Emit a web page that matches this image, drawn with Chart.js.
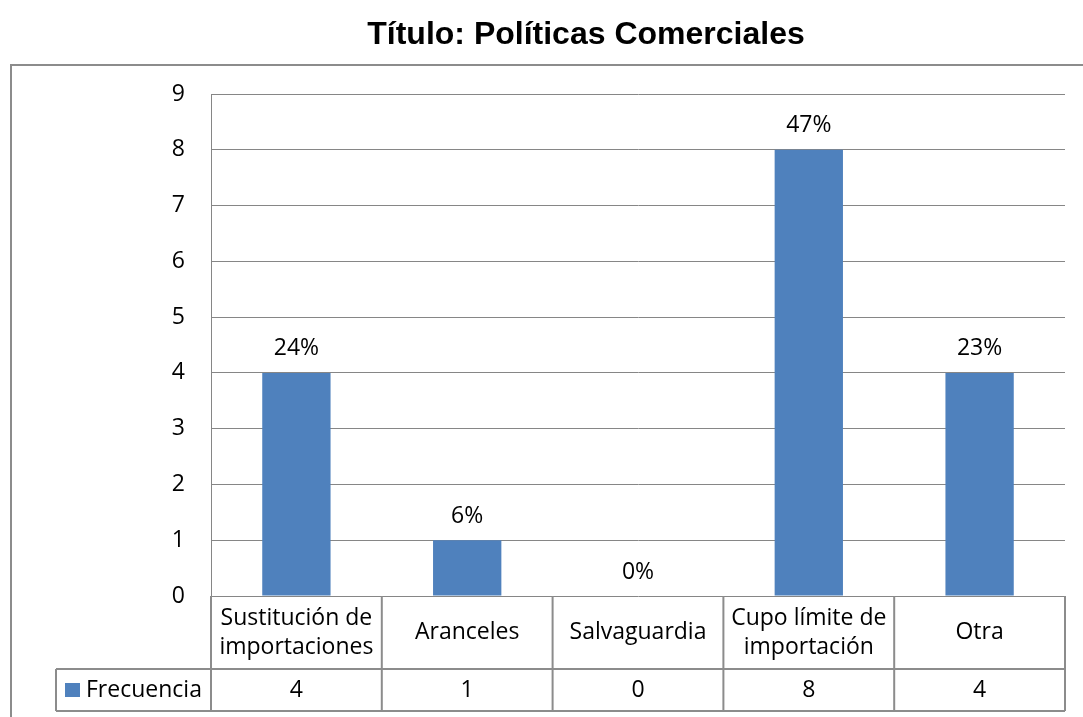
<!DOCTYPE html>
<html><head><meta charset="utf-8">
<script src="https://cdn.jsdelivr.net/npm/chart.js@4"></script>
<style>html,body{margin:0;padding:0;background:#fff}#wrap{width:1083px;height:717px;position:relative}</style>
</head><body><div id="wrap"><canvas id="c" width="1083" height="717"></canvas></div>
<script>
const categories = [["Sustitución de","importaciones"],["Aranceles"],["Salvaguardia"],["Cupo límite de","importación"],["Otra"]];
const seriesName = "Frecuencia";
const frecuencia = [4, 1, 0, 8, 4];
const percentLabels = ["24%", "6%", "0%", "47%", "23%"];
const yMin = 0, yMax = 9, yStep = 1;
const chartTitle = "Título: Políticas Comerciales";

const BAR = '#4F81BD';
const GRID = '#868686';
const FONT = '"Open Sans", "DejaVu Sans", sans-serif';
const FSIZE = 23;
const PAD_LEFT = 107;

const frame = {
  id: 'frame',
  beforeDraw(chart) {
    const c = chart.ctx;
    c.save();
    c.fillStyle = '#fff';
    c.fillRect(0, 0, chart.width, chart.height);
    c.strokeStyle = '#8c8c8c';
    c.lineWidth = 2;
    c.strokeRect(11, 65, chart.width + 20, chart.height + 20);
    c.restore();
  }
};

const tableAndLabels = {
  id: 'tableAndLabels',
  afterDraw(chart) {
    const c = chart.ctx;
    const xs = chart.scales.x;
    const ca = chart.chartArea;
    const n = categories.length;
    const half = (xs.getPixelForValue(1) - xs.getPixelForValue(0)) / 2;
    const bounds = [];
    for (let i = 0; i < n; i++) bounds.push(xs.getPixelForValue(i) - half);
    bounds.push(xs.getPixelForValue(n - 1) + half);
    const top = ca.bottom;
    const r1 = top + 73;
    const r2 = r1 + 42;
    const leftCell = 56;
    c.save();
    // data labels
    const meta = chart.getDatasetMeta(0);
    c.fillStyle = '#000';
    c.font = FSIZE + 'px ' + FONT;
    c.textAlign = 'center';
    c.textBaseline = 'middle';
    meta.data.forEach((el, i) => {
      c.fillText(percentLabels[i], el.x, el.y - 24);
    });
    // table lines
    c.strokeStyle = '#8c8c8c';
    c.lineWidth = 2;
    c.beginPath();
    bounds.forEach((b) => { c.moveTo(b, top); c.lineTo(b, r2); });
    c.moveTo(leftCell, r1); c.lineTo(bounds[n], r1);
    c.moveTo(leftCell, r2); c.lineTo(bounds[n], r2);
    c.moveTo(leftCell, r1); c.lineTo(leftCell, r2);
    c.stroke();
    // category labels
    const lh = 29;
    const mid1 = (top + r1) / 2;
    categories.forEach((lab, i) => {
      const cx = xs.getPixelForValue(i);
      const start = mid1 - (lab.length - 1) * lh / 2;
      lab.forEach((line, j) => c.fillText(line, cx, start + j * lh));
    });
    // values row
    const mid2 = (r1 + r2) / 2;
    frecuencia.forEach((v, i) => c.fillText(String(v), xs.getPixelForValue(i), mid2));
    // legend key
    c.fillStyle = BAR;
    c.fillRect(leftCell + 9, mid2 - 7, 15, 14);
    c.fillStyle = '#000';
    c.textAlign = 'left';
    c.fillText(seriesName, leftCell + 30, mid2);
    c.restore();
  }
};

new Chart(document.getElementById('c'), {
  type: 'bar',
  data: {
    labels: categories,
    datasets: [{
      label: seriesName,
      data: frecuencia,
      backgroundColor: BAR,
      borderWidth: 0,
      barPercentage: 0.4,
      categoryPercentage: 1
    }]
  },
  options: {
    responsive: false,
    animation: false,
    layout: { padding: { left: PAD_LEFT, right: 18, top: 0, bottom: 121 } },
    plugins: {
      legend: { display: false },
      tooltip: { enabled: false },
      title: {
        display: true,
        text: chartTitle,
        color: '#000',
        font: { family: '"Liberation Sans", Arial, sans-serif', size: 32, weight: 'bold' },
        padding: { top: 16, bottom: 39.6 }
      }
    },
    scales: {
      x: { display: false },
      y: {
        min: yMin, max: yMax,
        ticks: { stepSize: yStep, color: '#000', font: { family: FONT, size: FSIZE }, padding: 26 },
        grid: { color: GRID, lineWidth: 1, drawTicks: false },
        border: { display: true, color: GRID, width: 1 },
        afterFit(s) { s.width = 211 - PAD_LEFT; }
      }
    }
  },
  plugins: [frame, tableAndLabels]
});
</script>
</body></html>
